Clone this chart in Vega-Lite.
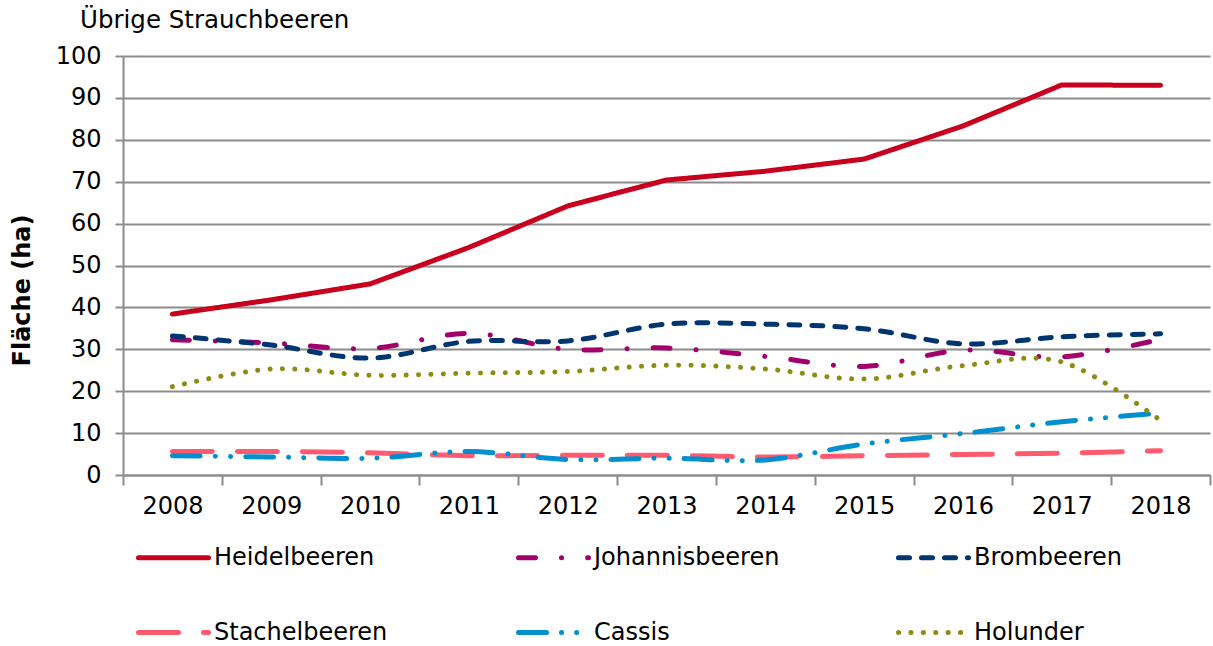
{
  "$schema": "https://vega.github.io/schema/vega-lite/v6.json",
  "autosize": {"type": "none"},
  "padding": {"left": 123, "top": 56, "right": 3, "bottom": 171},
  "width": 1087,
  "height": 419,
  "background": "white",
  "config": {
    "font": "DejaVu Sans",
    "view": {"stroke": null}
  },
  "title": {
    "text": "Übrige Strauchbeeren",
    "anchor": "start",
    "frame": "group",
    "dx": -43,
    "offset": 11,
    "fontSize": 24.5,
    "fontWeight": "normal",
    "color": "#000000",
    "font": "DejaVu Sans"
  },
  "data": {
    "values": [
      {"Jahr": "2008", "Sorte": "Heidelbeeren", "Fläche": 38.4},
      {"Jahr": "2009", "Sorte": "Heidelbeeren", "Fläche": 41.8},
      {"Jahr": "2010", "Sorte": "Heidelbeeren", "Fläche": 45.6},
      {"Jahr": "2011", "Sorte": "Heidelbeeren", "Fläche": 54.3},
      {"Jahr": "2012", "Sorte": "Heidelbeeren", "Fläche": 64.2},
      {"Jahr": "2013", "Sorte": "Heidelbeeren", "Fläche": 70.4},
      {"Jahr": "2014", "Sorte": "Heidelbeeren", "Fläche": 72.5},
      {"Jahr": "2015", "Sorte": "Heidelbeeren", "Fläche": 75.4},
      {"Jahr": "2016", "Sorte": "Heidelbeeren", "Fläche": 83.3},
      {"Jahr": "2017", "Sorte": "Heidelbeeren", "Fläche": 93.1},
      {"Jahr": "2018", "Sorte": "Heidelbeeren", "Fläche": 93.0},
      {"Jahr": "2008", "Sorte": "Johannisbeeren", "Fläche": 32.3},
      {"Jahr": "2009", "Sorte": "Johannisbeeren", "Fläche": 31.5},
      {"Jahr": "2010", "Sorte": "Johannisbeeren", "Fläche": 30.2},
      {"Jahr": "2011", "Sorte": "Johannisbeeren", "Fläche": 33.8},
      {"Jahr": "2012", "Sorte": "Johannisbeeren", "Fläche": 30.0},
      {"Jahr": "2013", "Sorte": "Johannisbeeren", "Fläche": 30.3},
      {"Jahr": "2014", "Sorte": "Johannisbeeren", "Fläche": 28.3},
      {"Jahr": "2015", "Sorte": "Johannisbeeren", "Fläche": 25.9},
      {"Jahr": "2016", "Sorte": "Johannisbeeren", "Fläche": 29.8},
      {"Jahr": "2017", "Sorte": "Johannisbeeren", "Fläche": 28.2},
      {"Jahr": "2018", "Sorte": "Johannisbeeren", "Fläche": 32.4},
      {"Jahr": "2008", "Sorte": "Brombeeren", "Fläche": 33.2},
      {"Jahr": "2009", "Sorte": "Brombeeren", "Fläche": 31.0},
      {"Jahr": "2010", "Sorte": "Brombeeren", "Fläche": 27.9},
      {"Jahr": "2011", "Sorte": "Brombeeren", "Fläche": 31.9},
      {"Jahr": "2012", "Sorte": "Brombeeren", "Fläche": 32.0},
      {"Jahr": "2013", "Sorte": "Brombeeren", "Fläche": 36.0},
      {"Jahr": "2014", "Sorte": "Brombeeren", "Fläche": 36.0},
      {"Jahr": "2015", "Sorte": "Brombeeren", "Fläche": 34.9},
      {"Jahr": "2016", "Sorte": "Brombeeren", "Fläche": 31.3},
      {"Jahr": "2017", "Sorte": "Brombeeren", "Fläche": 33.0},
      {"Jahr": "2018", "Sorte": "Brombeeren", "Fläche": 33.7},
      {"Jahr": "2008", "Sorte": "Stachelbeeren", "Fläche": 5.6},
      {"Jahr": "2009", "Sorte": "Stachelbeeren", "Fläche": 5.6},
      {"Jahr": "2010", "Sorte": "Stachelbeeren", "Fläche": 5.3},
      {"Jahr": "2011", "Sorte": "Stachelbeeren", "Fläche": 4.6},
      {"Jahr": "2012", "Sorte": "Stachelbeeren", "Fläche": 4.7},
      {"Jahr": "2013", "Sorte": "Stachelbeeren", "Fläche": 4.7},
      {"Jahr": "2014", "Sorte": "Stachelbeeren", "Fläche": 4.3},
      {"Jahr": "2015", "Sorte": "Stachelbeeren", "Fläche": 4.6},
      {"Jahr": "2016", "Sorte": "Stachelbeeren", "Fläche": 4.9},
      {"Jahr": "2017", "Sorte": "Stachelbeeren", "Fläche": 5.2},
      {"Jahr": "2018", "Sorte": "Stachelbeeren", "Fläche": 5.8},
      {"Jahr": "2008", "Sorte": "Cassis", "Fläche": 4.6},
      {"Jahr": "2009", "Sorte": "Cassis", "Fläche": 4.3},
      {"Jahr": "2010", "Sorte": "Cassis", "Fläche": 4.0},
      {"Jahr": "2011", "Sorte": "Cassis", "Fläche": 5.6},
      {"Jahr": "2012", "Sorte": "Cassis", "Fläche": 3.7},
      {"Jahr": "2013", "Sorte": "Cassis", "Fläche": 4.0},
      {"Jahr": "2014", "Sorte": "Cassis", "Fläche": 3.6},
      {"Jahr": "2015", "Sorte": "Cassis", "Fläche": 7.4},
      {"Jahr": "2016", "Sorte": "Cassis", "Fläche": 9.9},
      {"Jahr": "2017", "Sorte": "Cassis", "Fläche": 12.7},
      {"Jahr": "2018", "Sorte": "Cassis", "Fläche": 14.8},
      {"Jahr": "2008", "Sorte": "Holunder", "Fläche": 21.1},
      {"Jahr": "2009", "Sorte": "Holunder", "Fläche": 25.3},
      {"Jahr": "2010", "Sorte": "Holunder", "Fläche": 23.8},
      {"Jahr": "2011", "Sorte": "Holunder", "Fläche": 24.3},
      {"Jahr": "2012", "Sorte": "Holunder", "Fläche": 24.7},
      {"Jahr": "2013", "Sorte": "Holunder", "Fläche": 26.2},
      {"Jahr": "2014", "Sorte": "Holunder", "Fläche": 25.3},
      {"Jahr": "2015", "Sorte": "Holunder", "Fläche": 22.9},
      {"Jahr": "2016", "Sorte": "Holunder", "Fläche": 26.1},
      {"Jahr": "2017", "Sorte": "Holunder", "Fläche": 27.0},
      {"Jahr": "2018", "Sorte": "Holunder", "Fläche": 13.0}
    ]
  },
  "encoding": {
    "x": {
      "field": "Jahr",
      "type": "ordinal",
      "bandPosition": 0.5,
      "scale": {"type": "band", "paddingInner": 0, "paddingOuter": 0},
      "axis": {
        "title": null,
        "labelAngle": 0,
        "tickBand": "extent",
        "tickSize": 10,
        "tickColor": "#8c8c8c",
        "tickWidth": 2,
        "domainColor": "#8c8c8c",
        "domainWidth": 2,
        "labelFontSize": 24,
        "labelColor": "#000000",
        "labelPadding": 9,
        "grid": false
      }
    },
    "y": {
      "field": "Fläche",
      "type": "quantitative",
      "scale": {"domain": [0, 100], "nice": false},
      "axis": {
        "title": "Fläche (ha)",
        "titleFontSize": 24,
        "titleFontWeight": "bold",
        "titleColor": "#000000",
        "titleX": -101,
        "titleY": 234,
        "titleBaseline": "middle",
        "titleAlign": "center",
        "titleAngle": -90,
        "values": [0, 10, 20, 30, 40, 50, 60, 70, 80, 90, 100],
        "tickSize": 8,
        "tickColor": "#8c8c8c",
        "tickWidth": 2,
        "domainColor": "#8c8c8c",
        "domainWidth": 2,
        "gridColor": "#8c8c8c",
        "gridWidth": 2,
        "labelFontSize": 24,
        "labelColor": "#000000",
        "labelPadding": 14
      }
    },
    "color": {
      "field": "Sorte",
      "type": "nominal",
      "scale": {
        "domain": ["Heidelbeeren", "Johannisbeeren", "Brombeeren", "Stachelbeeren", "Cassis", "Holunder"],
        "range": ["#c8001e", "#a2006a", "#003670", "#ff5a6e", "#0090d0", "#8c8c14"]
      },
      "legend": {
        "title": null,
        "orient": "none",
        "legendX": 13,
        "legendY": 464,
        "direction": "horizontal",
        "columns": 3,
        "gridAlign": "all",
        "columnPadding": 108,
        "rowPadding": 25,
        "padding": 0,
        "symbolType": "stroke",
        "symbolSize": 4900,
        "symbolStrokeWidth": 5,
        "labelFontSize": 24,
        "labelColor": "#000000",
        "labelOffset": 3,
        "labelLimit": 400,
        "encode": {"symbols": {"update": {"strokeCap": {"value": "round"}}}}
      }
    },
    "strokeDash": {
      "field": "Sorte",
      "type": "nominal",
      "scale": {
        "domain": ["Heidelbeeren", "Johannisbeeren", "Brombeeren", "Stachelbeeren", "Cassis", "Holunder"],
        "range": [[1, 0], [17, 26, 0.1, 26], [11, 12], [40, 25], [28, 15, 0.1, 15, 0.1, 15], [0.1, 12.3]]
      }
    },
    "strokeWidth": {
      "field": "Sorte",
      "type": "nominal",
      "scale": {
        "domain": ["Heidelbeeren", "Johannisbeeren", "Brombeeren", "Stachelbeeren", "Cassis", "Holunder"],
        "range": [5, 5, 5, 5, 3, 5.5]
      }
    }
  },
  "layer": [
    {
      "transform": [{"filter": "datum.Sorte !== 'Heidelbeeren'"}],
      "mark": {"type": "line", "interpolate": "cardinal", "strokeCap": "round", "strokeJoin": "round"}
    },
    {
      "transform": [{"filter": "datum.Sorte === 'Heidelbeeren'"}],
      "mark": {"type": "line", "interpolate": "linear", "strokeCap": "round", "strokeJoin": "round"}
    }
  ]
}
